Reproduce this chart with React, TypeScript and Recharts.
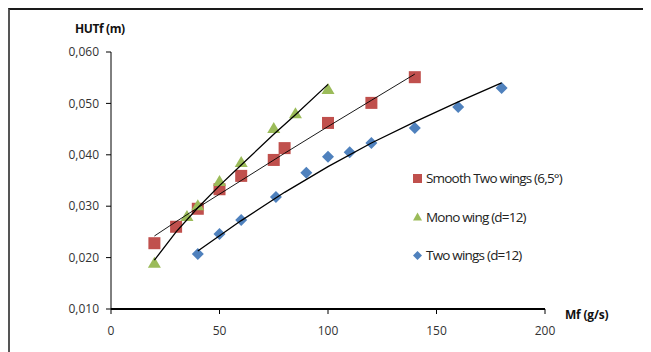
import { ComposedChart, Scatter, XAxis, YAxis } from 'recharts'

const xTicks = [0, 50, 100, 150, 200]
const yTicks = [0.01, 0.02, 0.03, 0.04, 0.05, 0.06]

// measured points
const smoothX = [20, 30, 40, 50, 60, 75, 80, 100, 120, 140]
const smoothY = [0.0228, 0.026, 0.0295, 0.0333, 0.0359, 0.039, 0.0413, 0.0462, 0.0501, 0.0551]
const monoX = [20, 35, 40, 50, 60, 75, 85, 100]
const monoY = [0.019, 0.0281, 0.0302, 0.0349, 0.0386, 0.0452, 0.0481, 0.0528]
const twoX = [40, 50, 60, 76, 90, 100, 110, 120, 140, 160, 180]
const twoY = [0.0207, 0.0246, 0.0273, 0.0318, 0.0365, 0.0396, 0.0405, 0.0423, 0.0452, 0.0493, 0.053]

// trendlines
const smoothTrendX = [20, 30, 40, 60, 80, 100, 120, 140]
const smoothTrendY = [0.0242, 0.027, 0.0297, 0.035, 0.0403, 0.0455, 0.0506, 0.0557]
const monoTrendX = [20, 30, 40, 50, 60, 75, 85, 100]
const monoTrendY = [0.0195, 0.025, 0.0297, 0.034, 0.038, 0.044, 0.0478, 0.0537]
const twoTrendX = [40, 60, 80, 100, 120, 140, 160, 180]
const twoTrendY = [0.0213, 0.0272, 0.0327, 0.0377, 0.0423, 0.0464, 0.0503, 0.054]

const RED = '#C0504D'
const GREEN = '#9BBB59'
const BLUE = '#4F81BD'

const zip = (xs: number[], ys: number[]) => xs.map((x, i) => ({ x, y: ys[i] }))

const legendItems = [
  { name: 'Smooth Two wings (6,5°)', color: RED, kind: 'square' },
  { name: 'Mono wing (d=12)', color: GREEN, kind: 'triangle' },
  { name: 'Two wings (d=12)', color: BLUE, kind: 'diamond' },
]

const Square = (p: any) => <rect x={p.cx - 6} y={p.cy - 6} width={12} height={12} fill={RED} />
const Triangle = (p: any) => (
  <polygon points={`${p.cx},${p.cy - 6} ${p.cx + 6.5},${p.cy + 5} ${p.cx - 6.5},${p.cy + 5}`} fill={GREEN} />
)
const Diamond = (p: any) => (
  <polygon points={`${p.cx},${p.cy - 6} ${p.cx + 6},${p.cy} ${p.cx},${p.cy + 6} ${p.cx - 6},${p.cy}`} fill={BLUE} />
)
const NoDot = () => <g />

function LegendMarker({ kind, color }: { kind: string; color: string }) {
  return (
    <svg width={9} height={9} style={{ marginRight: 4 }}>
      {kind === 'square' && <rect x={0} y={0} width={9} height={9} fill={color} />}
      {kind === 'triangle' && <polygon points="4.5,0.5 9,8.5 0,8.5" fill={color} />}
      {kind === 'diamond' && <polygon points="4.5,0 9,4.5 4.5,9 0,4.5" fill={color} />}
    </svg>
  )
}

const fmt = (v: number) => v.toFixed(3).replace('.', ',')

export default function App() {
  const tick = { fontSize: 12, fill: '#333', fontFamily: 'Open Sans' }
  return (
    <div
      style={{
        position: 'relative',
        width: 643,
        height: 344,
        boxSizing: 'border-box',
        borderTop: '2px solid #1a1a1a',
        borderLeft: '2px solid #555',
        fontFamily: 'Open Sans, sans-serif',
        background: '#fff',
      }}
    >
      <div style={{ position: 'absolute', left: 65, top: 10, fontSize: 12, fontWeight: 700, letterSpacing: -0.4, color: '#111' }}>
        HUTf (m)
      </div>
      <div style={{ position: 'absolute', left: 555, top: 296, fontSize: 12, fontWeight: 700, letterSpacing: -0.2, color: '#111' }}>
        Mf (g/s)
      </div>
      <div style={{ position: 'absolute', left: 403, top: 149 }}>
        {legendItems.map((it) => (
          <div key={it.name} style={{ display: 'flex', alignItems: 'center', height: 38.5, fontSize: 13.5, color: '#222', letterSpacing: -0.8 }}>
            <LegendMarker kind={it.kind} color={it.color} />
            <span>{it.name}</span>
          </div>
        ))}
      </div>
      <ComposedChart width={641} height={342} margin={{ top: 42, right: 106, bottom: 13, left: 0 }}>
        <XAxis
          type="number"
          dataKey="x"
          domain={[0, 200]}
          ticks={xTicks}
          interval={0}
          height={30}
          tick={tick}
          axisLine={{ stroke: '#000', strokeWidth: 2 }}
          tickLine={{ stroke: '#000' }}
          tickSize={5}
          tickMargin={12}
        />
        <YAxis
          type="number"
          dataKey="y"
          domain={[0.01, 0.06]}
          ticks={yTicks}
          interval={0}
          width={101}
          tick={tick}
          tickFormatter={fmt}
          axisLine={{ stroke: '#000', strokeWidth: 1 }}
          tickLine={{ stroke: '#000' }}
          tickSize={5}
          tickMargin={7}
        />
        <Scatter name="Smooth Two wings (6,5°)" data={zip(smoothX, smoothY)} shape={Square} isAnimationActive={false} />
        <Scatter name="Mono wing (d=12)" data={zip(monoX, monoY)} shape={Triangle} isAnimationActive={false} />
        <Scatter name="Two wings (d=12)" data={zip(twoX, twoY)} shape={Diamond} isAnimationActive={false} />
        <Scatter data={zip(smoothTrendX, smoothTrendY)} line={{ stroke: '#000', strokeWidth: 0.9 }} shape={NoDot} isAnimationActive={false} />
        <Scatter data={zip(monoTrendX, monoTrendY)} line={{ stroke: '#000', strokeWidth: 1.3 }} shape={NoDot} isAnimationActive={false} />
        <Scatter data={zip(twoTrendX, twoTrendY)} line={{ stroke: '#000', strokeWidth: 1.3 }} shape={NoDot} isAnimationActive={false} />
      </ComposedChart>
    </div>
  )
}
